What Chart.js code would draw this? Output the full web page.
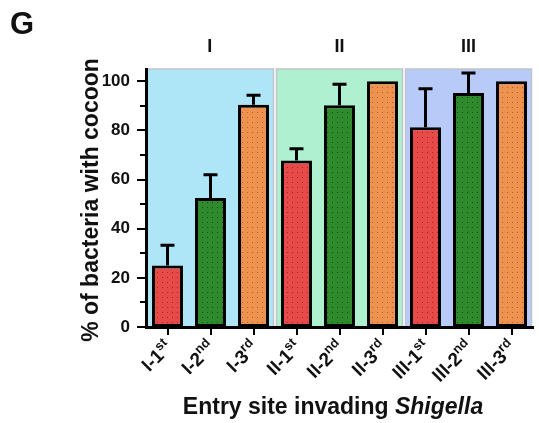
<!DOCTYPE html>
<html lang="en">
<head>
    <meta charset="UTF-8">
    <title>Cocoon bars</title>
    <script src="https://cdn.jsdelivr.net/npm/chart.js"></script>
    <style>
        html, body { margin: 0; padding: 0; background: #fff; }
        #wrap { width: 539px; height: 423px; }
    </style>
</head>
<body>
    <div id="wrap"><canvas id="chart" width="539" height="423"></canvas></div>

    <script>
        // data
        const sites = ['I-1', 'I-2', 'I-3', 'II-1', 'II-2', 'II-3', 'III-1', 'III-2', 'III-3'];
        const ordinals = ['st', 'nd', 'rd', 'st', 'nd', 'rd', 'st', 'nd', 'rd'];
        const percent = [25, 52.5, 90.5, 67.8, 90.2, 100, 81.3, 95.2, 100];
        const errTop = [33.3, 62, 94.3, 72.5, 98.8, null, 97, 103.4, null];
        const groups = ['I', 'II', 'III'];
        const yTicks = [0, 20, 40, 60, 80, 100];

        const FONT = '"Liberation Sans", Arial, sans-serif';
        const barBase = ['#e84a4a', '#2e8a2c', '#ee9250'];
        const barDot = ['#9c2a2a', '#174f16', '#b2602c'];
        const panelFill = ['#aee6f8', '#aef0d0', '#b8caf8'];

        function dotted(base, dot) {
            const c = document.createElement('canvas');
            c.width = 5; c.height = 5;
            const g = c.getContext('2d');
            g.fillStyle = base;
            g.fillRect(0, 0, 5, 5);
            g.fillStyle = dot;
            g.fillRect(2, 2, 1, 1);
            return g.createPattern(c, 'repeat');
        }
        const ctx0 = document.getElementById('chart').getContext('2d');
        const patterns = barBase.map((b, i) => dotted(b, barDot[i]));

        const panels = {
            id: 'panels',
            beforeDraw(chart) {
                const { ctx, chartArea, scales: { x } } = chart;
                const half = (x.getPixelForValue(1) - x.getPixelForValue(0)) / 2;
                ctx.save();
                groups.forEach((g, k) => {
                    const l = x.getPixelForValue(k * 3) - half + (k ? 1.5 : 0);
                    const r = x.getPixelForValue(k * 3 + 2) + half - 1.5;
                    ctx.fillStyle = panelFill[k];
                    ctx.fillRect(l, chartArea.top, r - l, chartArea.bottom - chartArea.top);
                    ctx.strokeStyle = '#c0c4c8';
                    ctx.lineWidth = 1.5;
                    ctx.strokeRect(l, chartArea.top, r - l, chartArea.bottom - chartArea.top);
                    // group label
                    ctx.fillStyle = '#111';
                    ctx.font = 'bold 18px ' + FONT;
                    ctx.textAlign = 'center';
                    ctx.textBaseline = 'middle';
                    ctx.fillText(g, (l + r) / 2, 47);
                });
                ctx.restore();
            },
            afterDatasetsDraw(chart) {
                const { ctx, scales: { x, y } } = chart;
                ctx.save();
                ctx.strokeStyle = '#000';
                ctx.lineWidth = 3;
                errTop.forEach((e, i) => {
                    if (e == null) return;
                    const px = x.getPixelForValue(i);
                    const y0 = y.getPixelForValue(percent[i]);
                    const y1 = y.getPixelForValue(e);
                    ctx.beginPath();
                    ctx.moveTo(px, y0);
                    ctx.lineTo(px, y1);
                    ctx.moveTo(px - 7, y1);
                    ctx.lineTo(px + 7, y1);
                    ctx.stroke();
                });
                ctx.restore();
            },
            afterDraw(chart) {
                const { ctx, chartArea, scales: { x, y } } = chart;
                ctx.save();
                ctx.strokeStyle = '#000';
                ctx.lineWidth = 2;
                // y ticks, major and minor
                for (let v = 0; v <= 100; v += 10) {
                    const py = Math.round(y.getPixelForValue(v));
                    const len = v % 20 === 0 ? 9 : 6;
                    ctx.beginPath();
                    ctx.moveTo(chartArea.left, py);
                    ctx.lineTo(chartArea.left - len, py);
                    ctx.stroke();
                }
                // x ticks
                sites.forEach((s, i) => {
                    const px = Math.round(x.getPixelForValue(i));
                    ctx.beginPath();
                    ctx.moveTo(px, chartArea.bottom);
                    ctx.lineTo(px, chartArea.bottom + 8);
                    ctx.stroke();
                });
                // x labels with superscripts
                ctx.fillStyle = '#111';
                ctx.textBaseline = 'middle';
                ctx.textAlign = 'left';
                sites.forEach((s, i) => {
                    const px = x.getPixelForValue(i);
                    ctx.save();
                    ctx.translate(px + 2, chartArea.bottom + 18);
                    ctx.rotate(-Math.PI / 4);
                    ctx.font = 'bold 13px ' + FONT;
                    const ws = ctx.measureText(ordinals[i]).width;
                    ctx.font = 'bold 19px ' + FONT;
                    const wm = ctx.measureText(s).width;
                    ctx.fillText(s, -(wm + ws), 0);
                    ctx.font = 'bold 13px ' + FONT;
                    ctx.fillText(ordinals[i], -ws, -6);
                    ctx.restore();
                });
                // axis titles
                ctx.font = 'bold 23px ' + FONT;
                const a = 'Entry site invading ';
                const wa = ctx.measureText(a).width;
                ctx.font = 'italic bold 23px ' + FONT;
                const wb = ctx.measureText('Shigella').width;
                const cx = 333 - (wa + wb) / 2;
                ctx.font = 'bold 23px ' + FONT;
                ctx.fillText(a, cx, 408);
                ctx.font = 'italic bold 23px ' + FONT;
                ctx.fillText('Shigella', cx + wa, 408);

                ctx.save();
                ctx.translate(98, 200);
                ctx.rotate(-Math.PI / 2);
                ctx.textAlign = 'center';
                ctx.textBaseline = 'alphabetic';
                ctx.font = 'bold 23px ' + FONT;
                ctx.fillText('% of bacteria with cocoon', 0, 0);
                ctx.restore();

                ctx.textBaseline = 'middle';
                ctx.font = 'bold 31px ' + FONT;
                ctx.fillText('G', 10, 25);
                ctx.restore();
            }
        };

        new Chart(ctx0, {
            type: 'bar',
            data: {
                labels: sites,
                datasets: [{
                    data: percent,
                    backgroundColor: sites.map((s, i) => patterns[i % 3]),
                    borderColor: '#000',
                    borderWidth: 3,
                    borderSkipped: false,
                    barPercentage: 0.72,
                    categoryPercentage: 1
                }]
            },
            options: {
                responsive: false,
                animation: false,
                layout: { padding: { top: 69, right: 6, left: 0, bottom: 0 } },
                plugins: { legend: { display: false }, tooltip: { enabled: false } },
                scales: {
                    x: {
                        grid: { display: false },
                        ticks: { display: false },
                        border: { display: true, color: '#000', width: 3 },
                        afterFit(s) { s.height = 96; }
                    },
                    y: {
                        min: 0,
                        max: 105,
                        grid: { display: false },
                        border: { display: true, color: '#000', width: 3 },
                        afterBuildTicks(s) { s.ticks = yTicks.map(v => ({ value: v })); },
                        ticks: {
                            padding: 8,
                            color: '#111',
                            font: { family: FONT, size: 17, weight: 'bold' }
                        },
                        afterFit(s) { s.width = 146; }
                    }
                }
            },
            plugins: [panels]
        });
    </script>
</body>
</html>
